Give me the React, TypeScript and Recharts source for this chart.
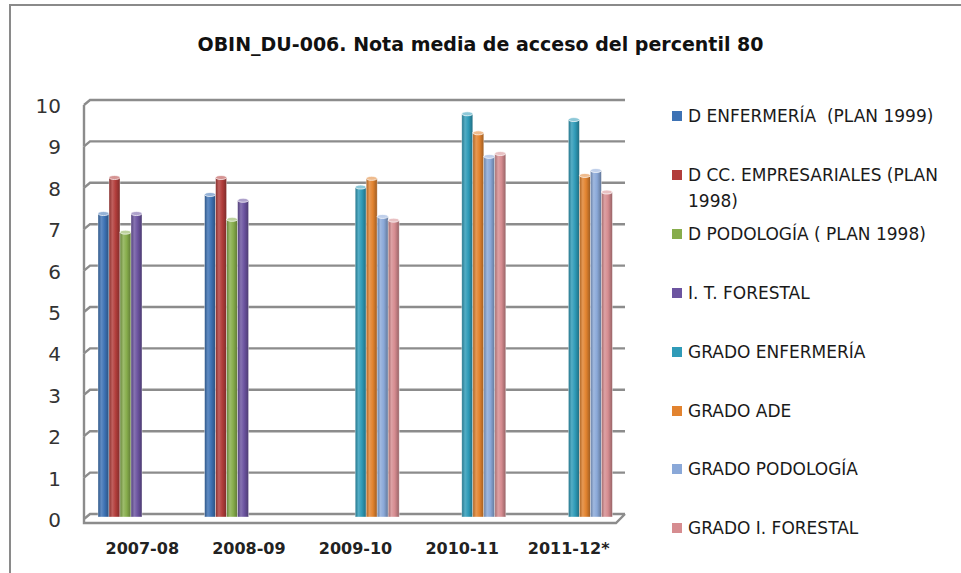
import React from "react";
import { BarChart, Bar, XAxis, YAxis, CartesianGrid, Legend } from "recharts";

const categories = ["2007-08", "2008-09", "2009-10", "2010-11", "2011-12*"];

const seriesNames = [
  "D ENFERMERÍA  (PLAN 1999)",
  "D CC. EMPRESARIALES (PLAN 1998)",
  "D PODOLOGÍA ( PLAN 1998)",
  "I. T. FORESTAL",
  "GRADO ENFERMERÍA",
  "GRADO ADE",
  "GRADO PODOLOGÍA",
  "GRADO I. FORESTAL",
];

const dEnfermeria = [7.33, 7.79, null, null, null];
const dEmpresariales = [8.2, 8.2, null, null, null];
const dPodologia = [6.88, 7.19, null, null, null];
const itForestal = [7.33, 7.65, null, null, null];
const gEnfermeria = [null, null, 7.97, 9.74, 9.6];
const gAde = [null, null, 8.18, 9.28, 8.25];
const gPodologia = [null, null, 7.26, 8.71, 8.37];
const gForestal = [null, null, 7.17, 8.78, 7.85];

const yTicks = [0, 1, 2, 3, 4, 5, 6, 7, 8, 9, 10];

const seriesValues = [
  dEnfermeria, dEmpresariales, dPodologia, itForestal,
  gEnfermeria, gAde, gPodologia, gForestal,
];

const colors = [
  "#3d72b4", "#b23d3b", "#87ad4c", "#6c54a0",
  "#2f9bb8", "#e2832f", "#8aa8d8", "#d68c90",
];

const data = categories.map((c, i) => {
  const row: Record<string, any> = { name: c };
  seriesValues.forEach((s, k) => (row["s" + k] = s[i]));
  return row;
});

// layout
const W = 961;
const H = 573;
const PLOT_TOP = 103;
const PLOT_BOTTOM = 517;
const PLOT_LEFT = 89;
const PLOT_RIGHT = 622;
const Y_AXIS_W = 60;
const X_AXIS_H = 30;
const STEP = (PLOT_BOTTOM - PLOT_TOP) / 10;

function mix(hex: string, target: number, t: number) {
  const n = parseInt(hex.slice(1), 16);
  const ch = [(n >> 16) & 255, (n >> 8) & 255, n & 255].map((v) =>
    Math.round(v + (target - v) * t)
  );
  return "rgb(" + ch.join(",") + ")";
}

const gridLine = (props: any) => {
  const { x1, x2, y1, index } = props;
  const yb = y1 - 3;
  let d = `M${x1 - 5},${yb + 5} L${x1 + 1},${yb} L${x2 + 3},${yb}`;
  if (y1 < PLOT_BOTTOM - 1) {
    d += ` M${x1 - 5},${yb + 5} L${x1 - 5},${yb + 5 + STEP}`;
  } else {
    d += ` M${x2 + 3},${yb} L${x2 - 6},${yb + 9} L${x1 - 5},${yb + 9} L${x1 - 5},${yb + 5}`;
  }
  return <path key={"h" + index} d={d} stroke="#8c8c8c" strokeWidth={2.4} fill="none" />;
};

const YTick = (props: any) => {
  const { y, payload } = props;
  return (
    <text x={61} y={y + 3} textAnchor="end" dominantBaseline="central"
      fontFamily="DejaVu Sans" fontSize={20} fill="#333">
      {payload.value}
    </text>
  );
};

const XTick = (props: any) => {
  const { x, payload } = props;
  return (
    <text x={x} y={548} textAnchor="middle" dominantBaseline="central"
      fontFamily="DejaVu Sans" fontWeight="bold" fontSize={16} fill="#222">
      {payload.value}
    </text>
  );
};

const makeShape = (k: number) => (p: any) => {
  const { x, y, width, height, value } = p;
  if (value == null || !height || height <= 0) return <g />;
  return (
    <g>
      <rect x={x} y={y} width={width} height={height} fill={`url(#cyl${k})`}
        stroke="#ffffff" strokeOpacity={0.55} strokeWidth={0.7} />
      <ellipse cx={x + width / 2} cy={y} rx={width / 2} ry={2}
        fill={mix(colors[k], 255, 0.45)} stroke="#ffffff" strokeWidth={0.7} />
    </g>
  );
};

const LegendBox = () => (
  <div style={{ position: "relative", width: 280, height: 470 }}>
    {seriesNames.map((name, i) => (
      <div key={i} style={{ position: "absolute", left: 0, top: i * 58.9, width: 280 }}>
        <div style={{ position: "absolute", left: 0, top: 8, width: 10, height: 10, background: colors[i] }} />
        <div style={{
          position: "absolute", left: 16, top: 0, width: 262, lineHeight: "26px",
          fontFamily: "DejaVu Sans", fontSize: 17, color: "#1a1a1a", whiteSpace: "pre-wrap",
        }}>{name}</div>
      </div>
    ))}
  </div>
);

export default function App() {
  return (
    <div style={{ position: "absolute", left: 0, top: 0, width: W, height: H, background: "#fff", overflow: "hidden" }}>
      <div style={{
        position: "absolute", left: 9, top: 4, right: 0, bottom: 0,
        borderTop: "2px solid #8a8a8a", borderLeft: "2px solid #8a8a8a",
      }} />
      <div style={{
        position: "absolute", left: 0, top: 33, width: 961, textAlign: "center",
        fontFamily: "DejaVu Sans", fontWeight: "bold", fontSize: 19, color: "#111",
      }}>
        OBIN_DU-006. Nota media de acceso del percentil 80
      </div>
      <BarChart
        width={W}
        height={H}
        data={data}
        barGap={0}
        barSize={11}
        margin={{
          top: PLOT_TOP,
          right: W - PLOT_RIGHT,
          bottom: H - PLOT_BOTTOM - X_AXIS_H,
          left: PLOT_LEFT - Y_AXIS_W,
        }}
      >
        <defs>
          {colors.map((c, k) => (
            <linearGradient key={k} id={`cyl${k}`} x1="0" y1="0" x2="1" y2="0">
              <stop offset="0%" stopColor={mix(c, 0, 0.25)} />
              <stop offset="30%" stopColor={mix(c, 255, 0.18)} />
              <stop offset="60%" stopColor={c} />
              <stop offset="100%" stopColor={mix(c, 0, 0.3)} />
            </linearGradient>
          ))}
        </defs>
        <CartesianGrid vertical={false} horizontal={gridLine} />
        <XAxis dataKey="name" height={X_AXIS_H} axisLine={false} tickLine={false} tick={<XTick />} interval={0} />
        <YAxis width={Y_AXIS_W} domain={[0, 10]} ticks={yTicks} axisLine={false} tickLine={false} tick={<YTick />} />
        <Legend
          layout="vertical"
          align="center"
          verticalAlign="middle"
          content={<LegendBox />}
          wrapperStyle={{ position: "absolute", left: 672, top: 103, width: 280, height: 470 }}
        />
        {seriesNames.map((n, k) => (
          <Bar key={k} dataKey={"s" + k} name={n} fill={colors[k]} shape={makeShape(k)} isAnimationActive={false} />
        ))}
      </BarChart>
    </div>
  );
}
